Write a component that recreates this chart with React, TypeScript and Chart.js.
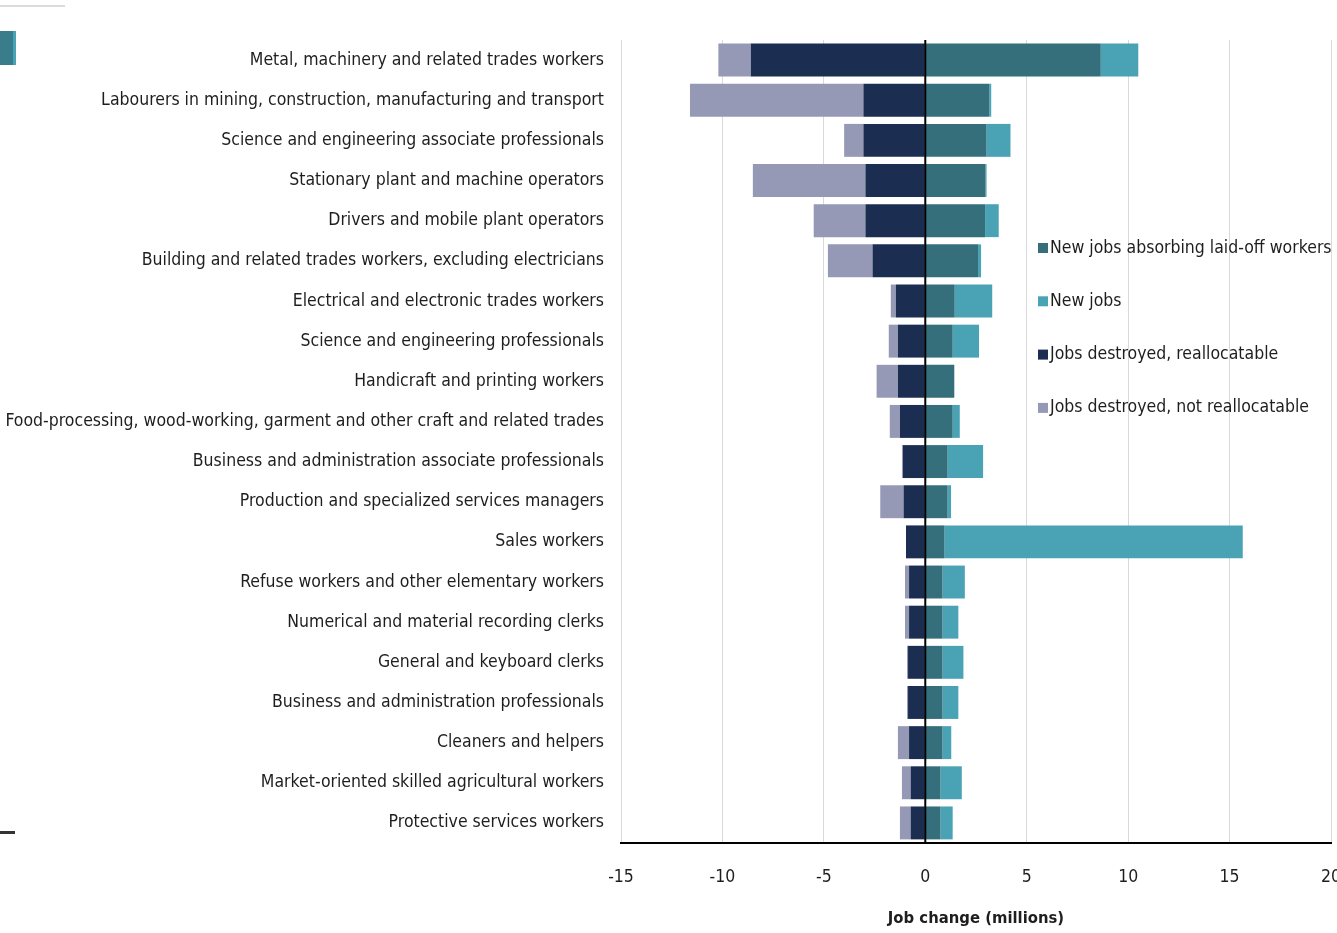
import React, { useEffect, useRef } from "react";
import { Chart, registerables } from "chart.js";

Chart.register(...registerables);

const categories = [
  "Metal, machinery and related trades workers",
  "Labourers in mining, construction, manufacturing and transport",
  "Science and engineering associate professionals",
  "Stationary plant and machine operators",
  "Drivers and mobile plant operators",
  "Building and related trades workers, excluding electricians",
  "Electrical and electronic trades workers",
  "Science and engineering professionals",
  "Handicraft and printing workers",
  "Food-processing, wood-working, garment and other craft and related trades",
  "Business and administration associate professionals",
  "Production and specialized services managers",
  "Sales workers",
  "Refuse workers and other elementary workers",
  "Numerical and material recording clerks",
  "General and keyboard clerks",
  "Business and administration professionals",
  "Cleaners and helpers",
  "Market-oriented skilled agricultural workers",
  "Protective services workers",
];

const newJobsAbsorbing = [8.65, 3.15, 3.02, 2.97, 2.95, 2.6, 1.45, 1.35, 1.43, 1.35, 1.1, 1.1, 0.95, 0.85, 0.85, 0.85, 0.85, 0.85, 0.75, 0.75];
const newJobs = [1.85, 0.1, 1.18, 0.05, 0.67, 0.15, 1.85, 1.3, 0, 0.35, 1.75, 0.17, 14.7, 1.1, 0.78, 1.03, 0.78, 0.43, 1.05, 0.6];
const destroyedReallocatable = [-8.6, -3.05, -3.05, -2.95, -2.95, -2.6, -1.45, -1.35, -1.35, -1.25, -1.1, -1.07, -0.95, -0.8, -0.8, -0.85, -0.85, -0.8, -0.72, -0.72];
const destroyedNotReallocatable = [-1.6, -8.55, -0.95, -5.55, -2.55, -2.2, -0.25, -0.45, -1.05, -0.5, -0.05, -1.15, 0, -0.2, -0.2, -0.05, -0.05, -0.55, -0.43, -0.53];

const seriesNames = [
  "New jobs absorbing laid-off workers",
  "New jobs",
  "Jobs destroyed, reallocatable",
  "Jobs destroyed, not reallocatable",
];
const seriesColors = ["#346f7b", "#4aa2b5", "#1b2d50", "#9699b5"];

const FONT = '"Liberation Sans Narrow", "DejaVu Sans Condensed", "Liberation Sans", sans-serif';
const TEXT = "#1e1e1e";
const LABEL_SIZE = 17.5;

const zeroLinePlugin = {
  id: "zeroLine",
  afterDatasetsDraw(chart: any) {
    const { ctx, chartArea, scales } = chart;
    const x = scales.x.getPixelForValue(0);
    ctx.save();
    ctx.strokeStyle = "#000";
    ctx.lineWidth = 2;
    ctx.beginPath();
    ctx.moveTo(x, chartArea.top);
    ctx.lineTo(x, chartArea.bottom);
    ctx.stroke();
    ctx.restore();
  },
};

const legendPlugin = {
  id: "insideLegend",
  afterDraw(chart: any) {
    const { ctx } = chart;
    ctx.save();
    ctx.font = `${LABEL_SIZE}px ${FONT}`;
    ctx.textBaseline = "middle";
    ctx.textAlign = "left";
    seriesNames.forEach((name, i) => {
      const y = 248 + i * 53.3;
      ctx.fillStyle = seriesColors[i];
      ctx.fillRect(1038, y - 5, 10, 10);
      ctx.fillStyle = TEXT;
      ctx.fillText(name, 1050, y);
    });
    ctx.restore();
  },
};

export default function App() {
  const ref = useRef<HTMLCanvasElement | null>(null);

  useEffect(() => {
    if (!ref.current) return;
    const chart = new Chart(ref.current, {
      type: "bar",
      data: {
        labels: categories,
        datasets: [
          { label: seriesNames[0], data: newJobsAbsorbing, backgroundColor: seriesColors[0] },
          { label: seriesNames[1], data: newJobs, backgroundColor: seriesColors[1] },
          { label: seriesNames[2], data: destroyedReallocatable, backgroundColor: seriesColors[2] },
          { label: seriesNames[3], data: destroyedNotReallocatable, backgroundColor: seriesColors[3] },
        ],
      },
      options: {
        indexAxis: "y",
        responsive: false,
        animation: false,
        datasets: { bar: { barPercentage: 0.82, categoryPercentage: 1 } },
        layout: { padding: { top: 40, right: 6, left: 0, bottom: 0 } },
        plugins: { legend: { display: false }, tooltip: { enabled: false } },
        scales: {
          x: {
            stacked: true,
            min: -15,
            max: 20,
            ticks: { stepSize: 5, padding: 24, color: TEXT, font: { family: FONT, size: LABEL_SIZE }, maxRotation: 0, autoSkip: false },
            grid: { color: "#d9d9d9", lineWidth: 1, drawTicks: false },
            border: { display: true, color: "#000", width: 2 },
            title: {
              display: true,
              text: "Job change (millions)",
              color: TEXT,
              font: { family: FONT, size: 16.5, weight: "bold" },
              padding: { top: 0, bottom: 4 },
            },
            afterFit: (s: any) => {
              s.height = 90;
              s.paddingLeft = 0;
              s.paddingRight = 0;
            },
          },
          y: {
            stacked: true,
            ticks: { padding: 17, color: TEXT, font: { family: FONT, size: LABEL_SIZE }, autoSkip: false },
            grid: { display: false, drawTicks: false },
            border: { display: false },
            afterFit: (s: any) => {
              s.width = 621;
            },
          },
        },
      } as any,
      plugins: [zeroLinePlugin, legendPlugin],
    });
    return () => chart.destroy();
  }, []);

  return (
    <div style={{ position: "absolute", left: 0, top: 0, width: 1337, height: 933, background: "#fff", overflow: "hidden" }}>
      <div style={{ position: "absolute", left: 0, top: 5, width: 65, height: 2, background: "#dcdcdc" }} />
      <div style={{ position: "absolute", left: 0, top: 31, width: 13, height: 34, background: "#3a7d8a", borderRight: "3px solid #4aa2b5" }} />
      <div style={{ position: "absolute", left: 0, top: 831, width: 15, height: 3, background: "#333" }} />
      <canvas ref={ref} width={1337} height={933} style={{ position: "absolute", left: 0, top: 0, display: "block" }} />
    </div>
  );
}
